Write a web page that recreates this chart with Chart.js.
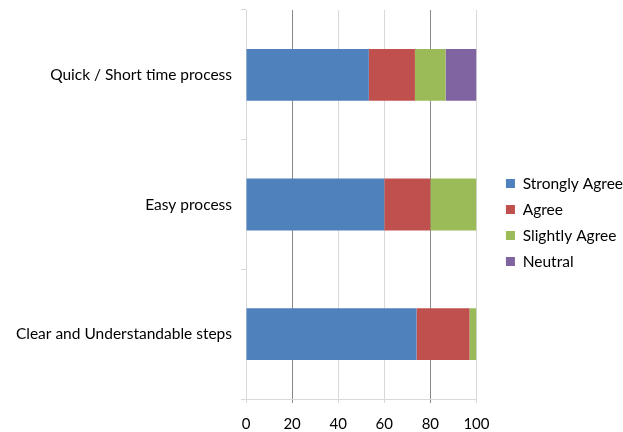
<!DOCTYPE html>
<html>
<head>
<meta charset="utf-8">
<script src="https://cdn.jsdelivr.net/npm/chart.js@4"></script>
<style>
html,body{margin:0;padding:0;background:#fff;}
#wrap{width:623px;height:432px;}
</style>
</head>
<body>
<div id="wrap"><canvas id="c" width="623" height="432"></canvas></div>
<script>
const categories = ['Quick / Short time process', 'Easy process', 'Clear and Understandable steps'];
const stronglyAgree = [53.3, 60, 74];
const agree = [20, 20, 23];
const slightlyAgree = [13.3, 20, 3];
const neutral = [13.4, 0, 0];
const xTicks = [0, 20, 40, 60, 80, 100];

const FONT = 'Lato, "Open Sans", sans-serif';
Chart.defaults.font.family = FONT;
Chart.defaults.font.size = 14;
Chart.defaults.color = '#000';

const LEGEND_SHIFT_X = 19;
const LEGEND_SHIFT_Y = -5;
const legendShift = {
  id: 'legendShift',
  afterLayout(chart) {
    const lg = chart.legend;
    if (lg) {
      lg.left += LEGEND_SHIFT_X; lg.right += LEGEND_SHIFT_X;
      lg.top += LEGEND_SHIFT_Y; lg.bottom += LEGEND_SHIFT_Y;
    }
  }
};

new Chart(document.getElementById('c'), {
  type: 'bar',
  data: {
    labels: categories,
    datasets: [
      {label: 'Strongly Agree', data: stronglyAgree, backgroundColor: '#4F81BD'},
      {label: 'Agree', data: agree, backgroundColor: '#C0504D'},
      {label: 'Slightly Agree', data: slightlyAgree, backgroundColor: '#9BBB59'},
      {label: 'Neutral', data: neutral, backgroundColor: '#8064A2'}
    ]
  },
  plugins: [legendShift],
  options: {
    indexAxis: 'y',
    responsive: false,
    animation: false,
    layout: {padding: {left: 0, right: 9, top: 10, bottom: -13}},
    datasets: {bar: {barPercentage: 0.4, categoryPercentage: 1.0}},
    scales: {
      x: {
        stacked: true,
        min: 0, max: 100,
        afterBuildTicks: s => { s.ticks = xTicks.map(v => ({value: v})); },
        grid: {
          color: ctx => (ctx.tick && (ctx.tick.value === 20 || ctx.tick.value === 80)) ? '#8a8a8a' : '#d9d9d9',
          tickLength: 4,
          drawTicks: true
        },
        border: {color: '#d9d9d9'},
        ticks: {padding: 12, font: {size: 15}}
      },
      y: {
        stacked: true,
        grid: {drawOnChartArea: false, drawTicks: true, tickLength: 5, color: '#d9d9d9', offset: true},
        border: {color: '#d9d9d9'},
        ticks: {padding: 9, font: {size: 15.5}},
        afterFit: s => { s.width = 246; s.paddingTop = 0; s.paddingBottom = 0; }
      }
    },
    plugins: {
      legend: {
        position: 'right',
        labels: {boxWidth: 9, boxHeight: 9, padding: 10.5, font: {size: 15.5}}
      },
      tooltip: {enabled: false}
    }
  }
});
</script>
</body>
</html>
